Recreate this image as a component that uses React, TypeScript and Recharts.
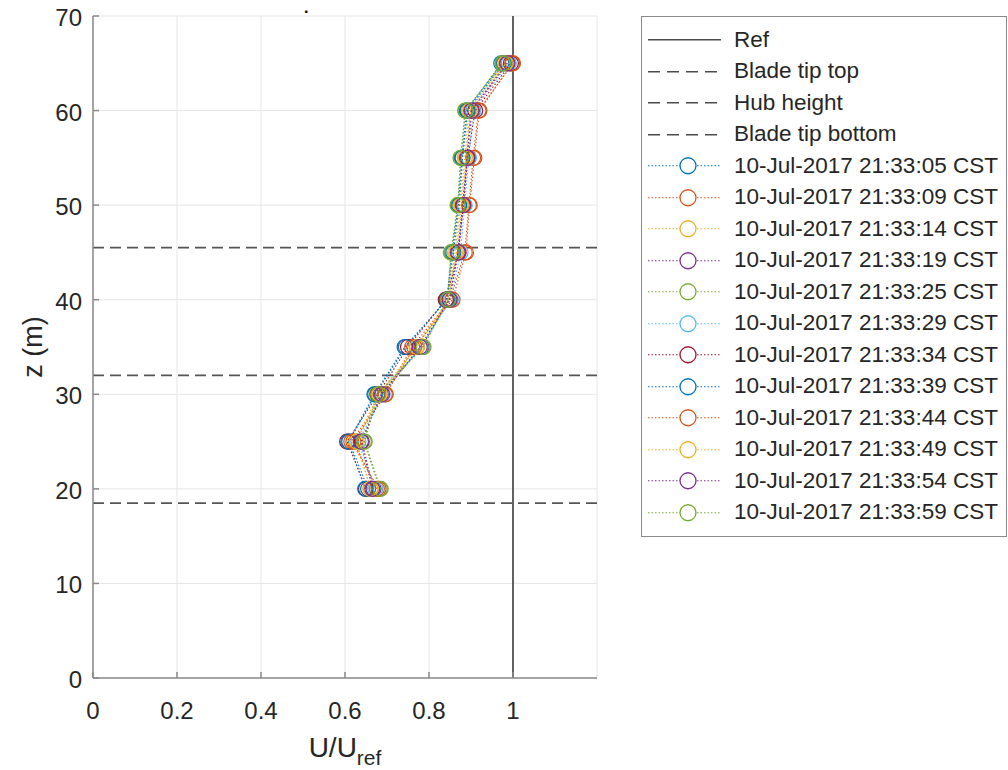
import React from "react";
import { ScatterChart, Scatter, XAxis, YAxis, CartesianGrid, ReferenceLine } from "recharts";

const FONT = "'Liberation Sans', Arial, Helvetica, sans-serif";
const TEXT = "#262626";
const AXIS = "#8a8a8a";

// heights of the measurement gates (m)
const heights = [20, 25, 30, 35, 40, 45, 50, 55, 60, 65];
const xTicks = [0, 0.2, 0.4, 0.6, 0.8, 1];
const yTicks = [0, 10, 20, 30, 40, 50, 60, 70];

const refValue = 1;
const bladeTipTop = 45.5;
const hubHeight = 32;
const bladeTipBottom = 18.5;

const timeLabels = [
  "10-Jul-2017 21:33:05 CST",
  "10-Jul-2017 21:33:09 CST",
  "10-Jul-2017 21:33:14 CST",
  "10-Jul-2017 21:33:19 CST",
  "10-Jul-2017 21:33:25 CST",
  "10-Jul-2017 21:33:29 CST",
  "10-Jul-2017 21:33:34 CST",
  "10-Jul-2017 21:33:39 CST",
  "10-Jul-2017 21:33:44 CST",
  "10-Jul-2017 21:33:49 CST",
  "10-Jul-2017 21:33:54 CST",
  "10-Jul-2017 21:33:59 CST",
];

const colors = [
  "#0072BD", "#D95319", "#EDB120", "#7E2F8E", "#77AC30", "#4DBEEE",
  "#A2142F", "#0072BD", "#D95319", "#EDB120", "#7E2F8E", "#77AC30",
];

// U/Uref per height, one array per scan
const u05 = [0.655, 0.610, 0.672, 0.745, 0.842, 0.855, 0.870, 0.878, 0.890, 0.972];
const u09 = [0.680, 0.615, 0.695, 0.760, 0.850, 0.885, 0.895, 0.905, 0.918, 1.000];
const u14 = [0.662, 0.625, 0.680, 0.770, 0.846, 0.862, 0.875, 0.885, 0.895, 0.980];
const u19 = [0.668, 0.640, 0.685, 0.782, 0.848, 0.868, 0.880, 0.890, 0.900, 0.985];
const u25 = [0.683, 0.645, 0.676, 0.785, 0.844, 0.852, 0.868, 0.875, 0.886, 0.975];
const u29 = [0.672, 0.632, 0.690, 0.780, 0.852, 0.875, 0.885, 0.895, 0.905, 0.990];
const u34 = [0.650, 0.605, 0.678, 0.750, 0.840, 0.870, 0.882, 0.892, 0.910, 0.995];
const u39 = [0.648, 0.608, 0.670, 0.742, 0.843, 0.858, 0.872, 0.880, 0.892, 0.978];
const u44 = [0.676, 0.620, 0.697, 0.765, 0.856, 0.888, 0.897, 0.908, 0.920, 0.998];
const u49 = [0.660, 0.628, 0.683, 0.772, 0.847, 0.865, 0.878, 0.888, 0.898, 0.983];
const u54 = [0.665, 0.638, 0.688, 0.778, 0.849, 0.870, 0.881, 0.891, 0.902, 0.987];
const u59 = [0.685, 0.647, 0.679, 0.787, 0.845, 0.854, 0.869, 0.876, 0.887, 0.976];

const profiles = [u05, u09, u14, u19, u25, u29, u34, u39, u44, u49, u54, u59];

const BottomTick = (props: any) => {
  const { x, y, payload } = props;
  return (
    <g>
      <line x1={x} x2={x} y1={y} y2={y - 6} stroke={AXIS} strokeWidth={1.5} />
      <text x={x} y={y + 41} textAnchor="middle" fill={TEXT} fontSize={24} fontFamily={FONT}>
        {String(payload.value)}
      </text>
    </g>
  );
};

const LeftTick = (props: any) => {
  const { x, y, payload } = props;
  return (
    <g>
      <line x1={x} x2={x + 6} y1={y} y2={y} stroke={AXIS} strokeWidth={1.5} />
      <text x={x - 11} y={y + 10} textAnchor="end" fill={TEXT} fontSize={24} fontFamily={FONT}>
        {payload.value}
      </text>
    </g>
  );
};

const TopTick = (props: any) => {
  const { x, y } = props;
  return <line x1={x} x2={x} y1={y} y2={y + 6} stroke={AXIS} strokeWidth={1.5} />;
};

const RightTick = (props: any) => {
  const { x, y } = props;
  return <line x1={x} x2={x - 6} y1={y} y2={y} stroke={AXIS} strokeWidth={1.5} />;
};

const XLabel = (props: any) => {
  const { viewBox } = props;
  const cx = viewBox.x + viewBox.width / 2;
  return (
    <text x={cx} y={viewBox.y + 79} textAnchor="middle" fill={TEXT} fontFamily={FONT} fontSize={28}>
      <tspan>U/U</tspan>
      <tspan dy={8} fontSize={21}>ref</tspan>
    </text>
  );
};

const YLabel = (props: any) => {
  const { viewBox } = props;
  const cx = 33;
  const cy = viewBox.y + viewBox.height / 2;
  return (
    <text
      x={cx}
      y={cy}
      transform={`rotate(-90 ${cx} ${cy})`}
      textAnchor="middle"
      dominantBaseline="central"
      fill={TEXT}
      fontFamily={FONT}
      fontSize={27}
    >
      z (m)
    </text>
  );
};

const ring = (color: string) => (props: any) => {
  const { cx, cy } = props;
  if (cx == null || cy == null) return <g />;
  return <circle cx={cx} cy={cy} r={7.5} fill="none" stroke={color} strokeWidth={1.2} />;
};

const LegendBox = () => {
  const rowH = 31.5;
  const rows: { label: string; kind: "solid" | "dash" | "series"; color: string }[] = [
    { label: "Ref", kind: "solid", color: "#4a4a4a" },
    { label: "Blade tip top", kind: "dash", color: "#4a4a4a" },
    { label: "Hub height", kind: "dash", color: "#4a4a4a" },
    { label: "Blade tip bottom", kind: "dash", color: "#4a4a4a" },
    ...timeLabels.map((t, i) => ({ label: t, kind: "series" as const, color: colors[i] })),
  ];
  return (
    <div
      style={{
        position: "absolute",
        left: 641,
        top: 16,
        width: 364,
        padding: "7px 0 8px 0",
        border: `1.5px solid ${AXIS}`,
        background: "#fff",
        fontFamily: FONT,
        fontSize: 22.5,
        color: TEXT,
      }}
    >
      {rows.map((r) => (
        <div key={r.label} style={{ display: "flex", alignItems: "center", height: rowH }}>
          <svg width={92} height={rowH} style={{ flex: "none" }}>
            {r.kind === "solid" && (
              <line x1={6} x2={79} y1={rowH / 2} y2={rowH / 2} stroke={r.color} strokeWidth={1.6} />
            )}
            {r.kind === "dash" && (
              <line x1={6} x2={79} y1={rowH / 2} y2={rowH / 2} stroke={r.color} strokeWidth={1.6} strokeDasharray="12 7" />
            )}
            {r.kind === "series" && (
              <g>
                <line x1={6} x2={79} y1={rowH / 2} y2={rowH / 2} stroke={r.color} strokeWidth={1.2} strokeDasharray="1.5 2" />
                <circle cx={46} cy={rowH / 2} r={8} fill="#fff" stroke={r.color} strokeWidth={1.3} />
              </g>
            )}
          </svg>
          <span style={{ whiteSpace: "nowrap" }}>{r.label}</span>
        </div>
      ))}
    </div>
  );
};

export default function App() {
  return (
    <div style={{ position: "absolute", left: 0, top: 0, width: 1008, height: 770, background: "#fff" }}>
      <ScatterChart width={1008} height={770} margin={{ top: 16, right: 411, bottom: 0, left: 0 }}>
        <CartesianGrid stroke="#e6e6e6" strokeWidth={1} />
        <XAxis
          type="number"
          dataKey="u"
          domain={[0, 1.2]}
          ticks={xTicks}
          interval={0}
          height={92}
          tickSize={0}
          tickMargin={0}
          tickLine={false}
          axisLine={{ stroke: AXIS, strokeWidth: 1.5 }}
          tick={BottomTick}
          allowDataOverflow
          label={{ content: XLabel }}
        />
        <XAxis
          xAxisId="top"
          orientation="top"
          type="number"
          domain={[0, 1.2]}
          ticks={xTicks}
          interval={0}
          height={0}
          tickSize={0}
          tickMargin={0}
          tickLine={false}
          axisLine={{ stroke: AXIS, strokeWidth: 1.5 }}
          tick={TopTick}
        />
        <YAxis
          type="number"
          dataKey="z"
          domain={[0, 70]}
          ticks={yTicks}
          interval={0}
          width={93}
          tickSize={0}
          tickMargin={0}
          tickLine={false}
          axisLine={{ stroke: AXIS, strokeWidth: 1.5 }}
          tick={LeftTick}
          allowDataOverflow
          label={{ content: YLabel }}
        />
        <YAxis
          yAxisId="right"
          orientation="right"
          type="number"
          domain={[0, 70]}
          ticks={yTicks}
          interval={0}
          width={0}
          tickSize={0}
          tickMargin={0}
          tickLine={false}
          axisLine={{ stroke: AXIS, strokeWidth: 1.5 }}
          tick={RightTick}
        />
        <ReferenceLine x={refValue} stroke="#3c3c3c" strokeWidth={1.6} />
        <ReferenceLine y={bladeTipTop} stroke="#555" strokeWidth={1.8} strokeDasharray="11 6" />
        <ReferenceLine y={hubHeight} stroke="#555" strokeWidth={1.8} strokeDasharray="11 6" />
        <ReferenceLine y={bladeTipBottom} stroke="#555" strokeWidth={1.8} strokeDasharray="11 6" />
        {profiles.map((vals, i) => (
          <Scatter
            key={timeLabels[i]}
            name={timeLabels[i]}
            data={heights.map((z, k) => ({ u: vals[k], z }))}
            line={{ stroke: colors[i], strokeWidth: 1.1, strokeDasharray: "1.5 2" }}
            lineType="joint"
            shape={ring(colors[i])}
            isAnimationActive={false}
          />
        ))}
      </ScatterChart>
      <div
        style={{
          position: "absolute",
          left: 304,
          top: 0,
          fontFamily: FONT,
          fontSize: 16,
          fontWeight: "bold",
          lineHeight: 1,
          color: "#000",
        }}
      >
        .
      </div>
      <LegendBox />
    </div>
  );
}
